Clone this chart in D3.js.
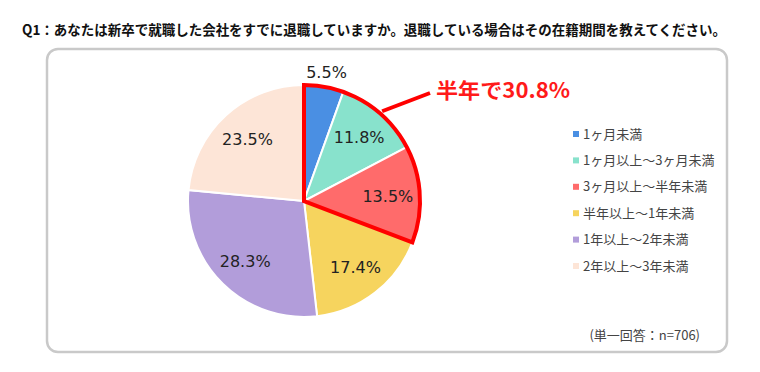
<!DOCTYPE html>
<html>
<head>
<meta charset="utf-8">
<script src="https://cdn.jsdelivr.net/npm/d3@7"></script>
<style>
  body { margin: 0; background: #fff; }
  svg { display: block; }
</style>
</head>
<body>
<svg id="pie-chart" width="760" height="372"></svg>
<script>
const categories = ['1ヶ月未満', '1ヶ月以上～3ヶ月未満', '3ヶ月以上～半年未満', '半年以上～1年未満', '1年以上～2年未満', '2年以上～3年未満'];
const values = [5.5, 11.8, 13.5, 17.4, 28.3, 23.5];
const colors = ['#4a8fe3', '#88e2cc', '#ff6b6b', '#f6d45e', '#b29dda', '#fde5d7'];
const highlightCount = 3;   // first three slices = 半年未満
const titleText = 'Q1：あなたは新卒で就職した会社をすでに退職していますか。退職している場合はその在籍期間を教えてください。';
const calloutText = '半年で30.8%';
const noteText = '(単一回答：n=706)';

function drawPieChart() {
  const svg = d3.select('#pie-chart');
  svg.selectAll('*').remove();

  const cx = 304, cy = 201, radius = 116;

  // title
  svg.append('text')
    .attr('x', 22)
    .attr('y', 35)
    .attr('textLength', 704)
    .attr('lengthAdjust', 'spacingAndGlyphs')
    .style('font-family', '"Noto Sans CJK JP", sans-serif')
    .style('font-weight', 'bold')
    .style('font-size', '14px')
    .attr('fill', '#111')
    .text(titleText);

  // frame
  svg.append('rect')
    .attr('x', 47).attr('y', 49)
    .attr('width', 680).attr('height', 303)
    .attr('rx', 11)
    .attr('fill', '#fff')
    .attr('stroke', '#c9c9c9')
    .attr('stroke-width', 2.5);

  const g = svg.append('g').attr('transform', `translate(${cx},${cy})`);

  const pie = d3.pie().sort(null).value(d => d);
  const arcs = pie(values);
  const arc = d3.arc().innerRadius(0).outerRadius(radius);

  g.selectAll('.slice')
    .data(arcs)
    .enter()
    .append('path')
    .attr('class', 'slice')
    .attr('d', arc)
    .attr('fill', (d, i) => colors[i])
    .attr('stroke', '#fff')
    .attr('stroke-width', 2);

  // red outline round the first half year
  const hiEnd = arcs[highlightCount - 1].endAngle;
  g.append('path')
    .attr('d', d3.arc()({ innerRadius: 0, outerRadius: radius, startAngle: 0, endAngle: hiEnd }))
    .attr('fill', 'none')
    .attr('stroke', '#ff0000')
    .attr('stroke-width', 4)
    .attr('stroke-linejoin', 'miter');

  // slice labels
  const labelArc = d3.arc().innerRadius(84).outerRadius(84);
  const outArc = d3.arc().innerRadius(131).outerRadius(131);
  g.selectAll('.label')
    .data(arcs)
    .enter()
    .append('text')
    .attr('class', 'label')
    .attr('transform', d => `translate(${(d.data < 8 ? outArc : labelArc).centroid(d)})`)
    .attr('text-anchor', 'middle')
    .attr('dy', '0.36em')
    .style('font-family', '"DejaVu Sans", sans-serif')
    .style('font-size', '16px')
    .attr('fill', '#222')
    .text(d => d.data.toFixed(1) + '%');

  // callout, leaving from the middle of the second slice
  const a1 = arcs[1];
  const p0 = d3.pointRadial((a1.startAngle + a1.endAngle) / 2, radius + 3);
  g.append('line')
    .attr('x1', p0[0]).attr('y1', p0[1])
    .attr('x2', 430 - cx).attr('y2', 93 - cy)
    .attr('stroke', '#ff0000')
    .attr('stroke-width', 4);

  svg.append('text')
    .attr('x', 436)
    .attr('y', 98)
    .attr('textLength', 134)
    .attr('lengthAdjust', 'spacingAndGlyphs')
    .style('font-family', '"Noto Sans CJK JP", sans-serif')
    .style('font-weight', 'bold')
    .style('font-size', '21px')
    .attr('fill', '#ff1a1a')
    .text(calloutText);

  // legend
  const ly = d3.scalePoint().domain(categories).range([134, 266]);
  const legend = svg.append('g');
  const item = legend.selectAll('.item')
    .data(categories)
    .enter()
    .append('g')
    .attr('class', 'item')
    .attr('transform', d => `translate(573,${ly(d)})`);
  item.append('rect')
    .attr('x', 0).attr('y', -3)
    .attr('width', 6).attr('height', 6)
    .attr('fill', (d, i) => colors[i]);
  item.append('text')
    .attr('x', 10)
    .attr('dy', '0.36em')
    .style('font-family', '"Noto Sans CJK JP", sans-serif')
    .style('font-size', '13px')
    .attr('fill', '#444')
    .text(d => d);

  // note
  svg.append('text')
    .attr('x', 700)
    .attr('y', 340)
    .attr('text-anchor', 'end')
    .style('font-family', '"Noto Sans CJK JP", sans-serif')
    .style('font-size', '13px')
    .attr('fill', '#444')
    .text(noteText);
}

drawPieChart();
</script>
</body>
</html>
